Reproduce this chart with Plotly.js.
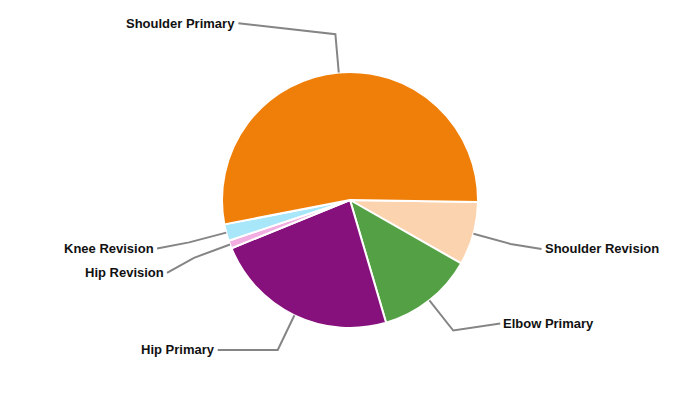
<!DOCTYPE html>
<html>
<head>
<meta charset="utf-8">
<script src="https://cdn.plot.ly/plotly-3.0.1.min.js"></script>
<style>html,body{margin:0;padding:0;background:#fff;}#chart{width:700px;height:400px;}</style>
</head>
<body>
<div id="chart"></div>
<script>
// ---- data ----
const labels = ['Shoulder Revision', 'Elbow Primary', 'Hip Primary', 'Hip Revision', 'Knee Revision', 'Shoulder Primary'];
const values = [8.0, 12.2, 23.4, 1.0, 2.1, 53.3];

// ---- style / layout config ----
const colors = ['#FCD3AF', '#54A145', '#86107C', '#F2AEE0', '#A8E6FA', '#F07F09'];
const labelDx = [31, 47, -60, -27, -32, -97];
const labelDy = [5, -7, 0, 15, 6, -11];
const W = 700, H = 400, CX = 350, CY = 200, R = 128, ROT = 90.9;

const total = values.reduce((a, b) => a + b, 0);
const px = x => x / W;
const py = y => 1 - y / H;

const shapes = [];
const annotations = [];
let acc = ROT;
values.forEach((v, i) => {
  const span = v / total * 360;
  const mid = (acc + span / 2) * Math.PI / 180;
  acc += span;
  const p0 = [CX + R * Math.sin(mid), CY - R * Math.cos(mid)];
  const r1 = R * 1.3;
  const p1 = [CX + r1 * Math.sin(mid), CY - r1 * Math.cos(mid)];
  const p2 = [p1[0] + labelDx[i], p1[1] + labelDy[i]];
  shapes.push({
    type: 'path', xref: 'paper', yref: 'paper',
    path: `M ${px(p0[0])},${py(p0[1])} L ${px(p1[0])},${py(p1[1])} L ${px(p2[0])},${py(p2[1])}`,
    line: {color: '#858585', width: 2}
  });
  const right = labelDx[i] > 0;
  annotations.push({
    xref: 'paper', yref: 'paper', showarrow: false,
    x: px(p2[0] + (right ? 1 : -1)), y: py(p2[1]),
    xanchor: right ? 'left' : 'right', yanchor: 'middle',
    text: '<b>' + labels[i] + '</b>',
    font: {family: 'Liberation Sans, Arial, sans-serif', size: 13, color: '#111111'}
  });
});

const trace = {
  type: 'pie',
  labels: labels,
  values: values,
  sort: false,
  direction: 'clockwise',
  rotation: ROT,
  textinfo: 'none',
  hoverinfo: 'label+percent',
  showlegend: false,
  marker: {colors: colors, line: {color: '#ffffff', width: 2}},
  domain: {x: [0, 1], y: [(H - (CY + R)) / H, (H - (CY - R)) / H]}
};

const layout = {
  width: W, height: H,
  margin: {l: 0, r: 0, t: 0, b: 0},
  paper_bgcolor: '#ffffff',
  showlegend: false,
  shapes: shapes,
  annotations: annotations
};

Plotly.newPlot('chart', [trace], layout, {displayModeBar: false, staticPlot: true});
</script>
</body>
</html>
